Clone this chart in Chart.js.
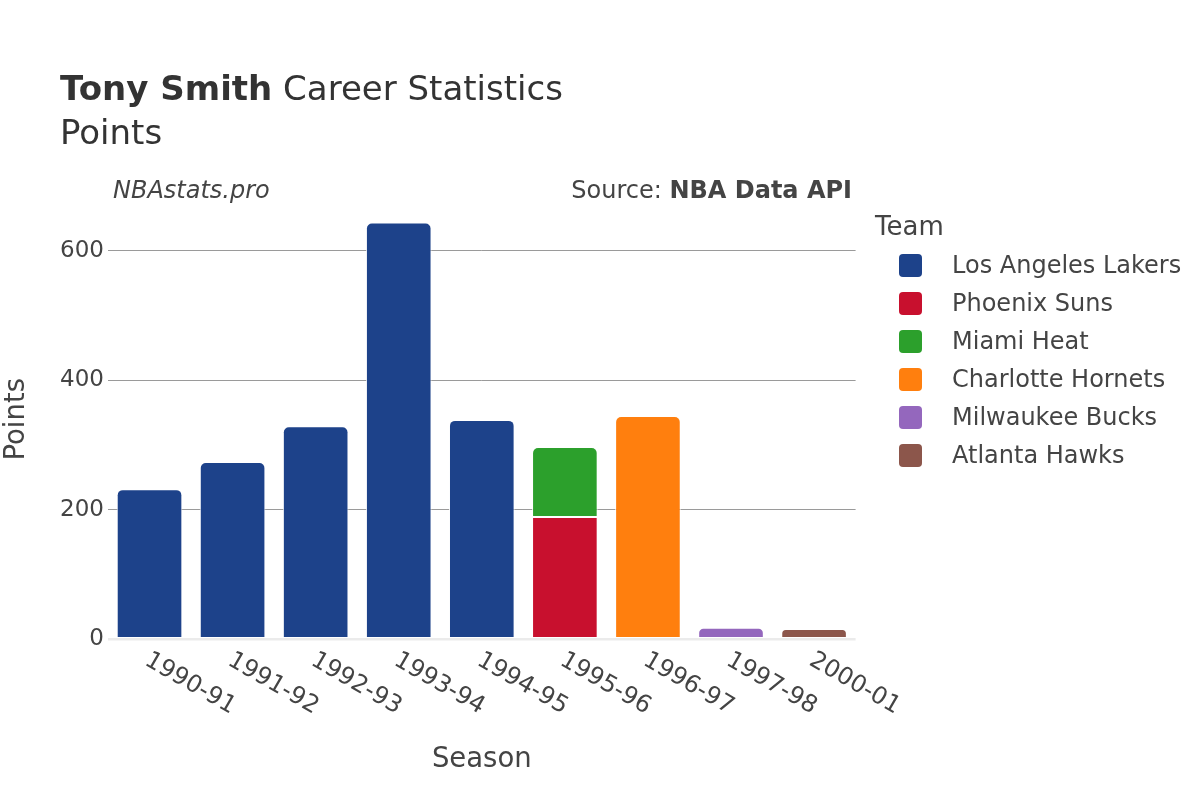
<!DOCTYPE html>
<html>
<head>
<meta charset="utf-8">
<title>Tony Smith Career Statistics - Points</title>
<script src="https://cdn.jsdelivr.net/npm/chart.js@4.4.1/dist/chart.umd.min.js"></script>
<style>
  html, body { margin: 0; padding: 0; background: #fff; }
  body { font-family: "DejaVu Sans", sans-serif; color: #444; }
  #wrap { position: relative; width: 1200px; height: 800px; overflow: hidden; }
  #chart { position: absolute; left: 0; top: 0; }
  .txt { position: absolute; white-space: nowrap; }
  #title { left: 60px; top: 66px; font-size: 34px; line-height: 44px; color: #333; }
  #brand { left: 113px; top: 175px; font-size: 24px; line-height: 30px; font-style: italic; }
  #source { right: 348px; top: 175px; font-size: 24px; line-height: 30px; }
  #legend-title { left: 875px; top: 207px; font-size: 26px; line-height: 38px; }
  .leg-item { position: absolute; left: 899px; height: 38px; font-size: 24px; line-height: 38px; white-space: nowrap; }
  .leg-swatch { position: absolute; left: 0; top: 7.5px; width: 23px; height: 23px; border-radius: 4px; }
  .leg-label { position: absolute; left: 53px; top: 0; }
</style>
</head>
<body>
<div id="wrap">
  <canvas id="chart" width="1200" height="800"></canvas>
  <div id="title" class="txt"><b>Tony Smith</b> Career Statistics<br>Points</div>
  <div id="brand" class="txt">NBAstats.pro</div>
  <div id="source" class="txt">Source: <b>NBA Data API</b></div>
  <div id="legend-title" class="txt">Team</div>
  <div id="legend"></div>
</div>
<script>
// seasons on the x axis
const seasons = ['1990-91', '1991-92', '1992-93', '1993-94', '1994-95', '1995-96', '1996-97', '1997-98', '2000-01'];

// teams (stack order bottom -> top) and their colours
const teams = ['Los Angeles Lakers', 'Phoenix Suns', 'Miami Heat', 'Charlotte Hornets', 'Milwaukee Bucks', 'Atlanta Hawks'];
const teamColors = ['#1d428a', '#c8102e', '#2ca02c', '#ff7f0e', '#9467bd', '#8c564b'];

// points per season, one array per team
const lakersPts   = [232, 274, 329, 644, 339, null, null, null, null];
const sunsPts     = [null, null, null, null, null, 189, null, null, null];
const heatPts     = [null, null, null, null, null, 108, null, null, null];
const hornetsPts  = [null, null, null, null, null, null, 345, null, null];
const bucksPts    = [null, null, null, null, null, null, null, 18, null];
const hawksPts    = [null, null, null, null, null, null, null, null, 16];
const teamPoints = [lakersPts, sunsPts, heatPts, hornetsPts, bucksPts, hawksPts];

// y axis
const yTicks = [0, 200, 400, 600];
const yMax = 680;

const FONT = '"DejaVu Sans", sans-serif';

// --- legend (html) ---
const legendEl = document.getElementById('legend');
teams.forEach(function (name, i) {
    const item = document.createElement('div');
    item.className = 'leg-item';
    item.style.top = (246 + i * 38) + 'px';
    item.innerHTML = '<span class="leg-swatch" style="background:' + teamColors[i] + '"></span>' +
        '<span class="leg-label">' + name + '</span>';
    legendEl.appendChild(item);
});

// --- rotated season labels (slanting down to the right, like the original) ---
const slantedLabels = {
    id: 'slantedLabels',
    afterDraw(chart) {
        const x = chart.scales.x;
        const ctx = chart.ctx;
        ctx.save();
        ctx.font = '24px ' + FONT;
        ctx.fillStyle = '#444';
        ctx.textAlign = 'left';
        ctx.textBaseline = 'alphabetic';
        seasons.forEach(function (s, i) {
            const px = x.getPixelForValue(i);
            ctx.save();
            ctx.translate(px - 6, 664);
            ctx.rotate(Math.PI / 6);
            ctx.fillText(s, 0, 0);
            ctx.restore();
        });
        ctx.restore();
    }
};

const datasets = teams.map(function (name, i) {
    const onTop = i !== 1; // Phoenix sits under Miami in 1995-96
    return {
        label: name,
        data: teamPoints[i],
        backgroundColor: teamColors[i],
        borderColor: 'rgba(255,255,255,0.85)',
        borderWidth: 1,
        borderSkipped: false,
        borderRadius: onTop ? { topLeft: 6, topRight: 6, bottomLeft: 0, bottomRight: 0 } : 0,
        barPercentage: 0.79,
        categoryPercentage: 1.0
    };
});

new Chart(document.getElementById('chart').getContext('2d'), {
    type: 'bar',
    data: { labels: seasons, datasets: datasets },
    plugins: [slantedLabels],
    options: {
        responsive: false,
        animation: false,
        layout: { padding: { left: 0, top: 199.2, right: 344.4, bottom: 0 } },
        plugins: {
            legend: { display: false },
            title: { display: false },
            tooltip: { enabled: false }
        },
        scales: {
            x: {
                stacked: true,
                grid: { display: false },
                border: { display: false },
                ticks: { display: false },
                title: {
                    display: true,
                    text: 'Season',
                    color: '#444',
                    font: { family: FONT, size: 27.5 },
                    padding: { top: 0, bottom: 23.5 }
                },
                afterFit(scale) { scale.height = 160.7; }
            },
            y: {
                stacked: true,
                min: 0,
                max: yMax,
                border: { display: false },
                grid: {
                    drawTicks: false,
                    color: function (c) { return c.tick && c.tick.value === 0 ? '#ebebeb' : '#9a9a9a'; },
                    lineWidth: function (c) { return c.tick && c.tick.value === 0 ? 2.5 : 1; }
                },
                afterBuildTicks(scale) { scale.ticks = yTicks.map(function (v) { return { value: v }; }); },
                ticks: {
                    padding: 4,
                    color: '#444',
                    font: { family: FONT, size: 23 }
                },
                title: {
                    display: true,
                    text: 'Points',
                    color: '#444',
                    font: { family: FONT, size: 27.5 },
                    padding: { top: 0.5, bottom: 0 }
                },
                afterFit(scale) { scale.width = 108; }
            }
        }
    }
});
</script>
</body>
</html>
